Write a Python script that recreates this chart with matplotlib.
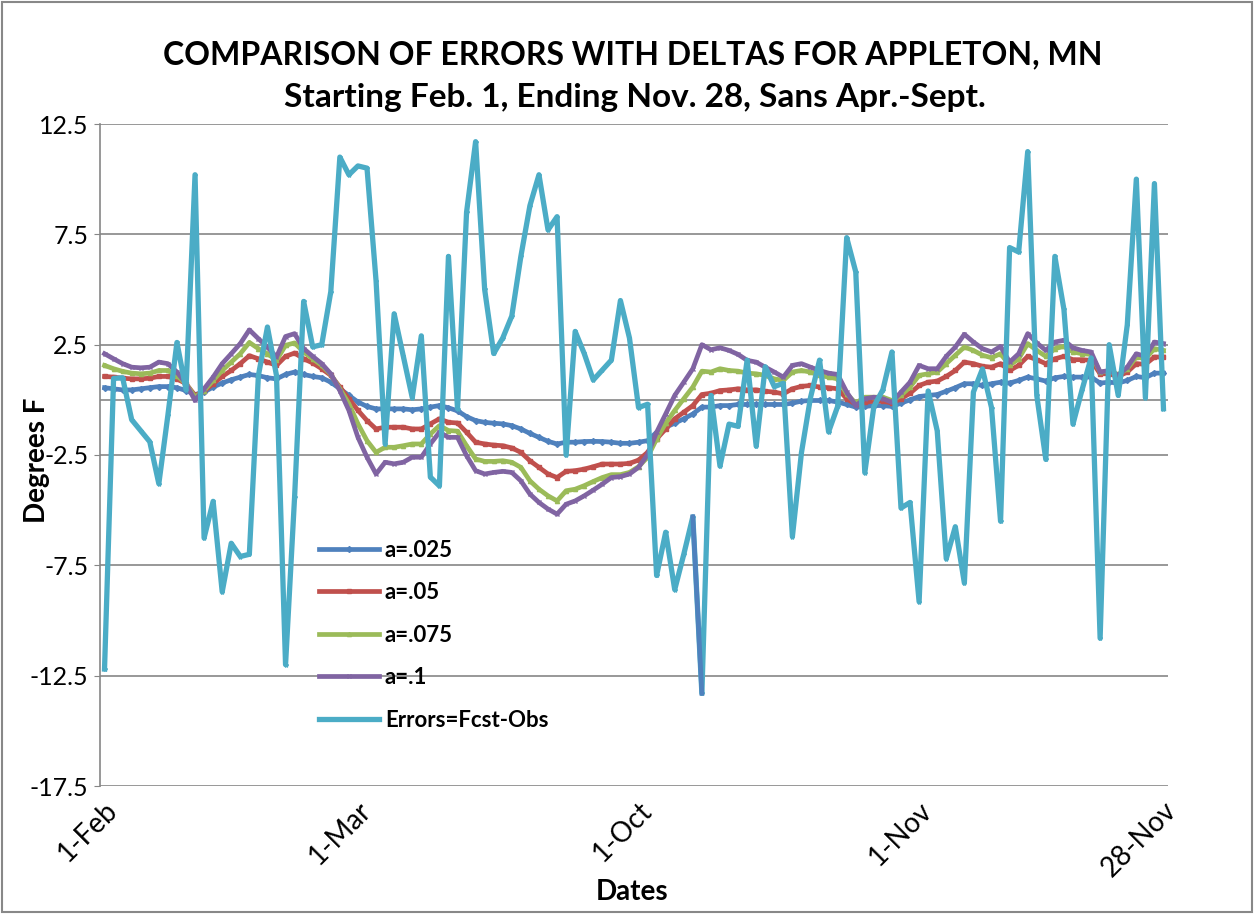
import numpy as np
import matplotlib
matplotlib.use('Agg')
import matplotlib.pyplot as plt
from matplotlib.patches import Rectangle

plt.rcParams['font.family'] = ['Lato', 'DejaVu Sans']

# category labels (Feb 1-28, Mar 1-31, Oct 1-31, Nov 1-28) -> 118 points
tick_pos = [0, 28, 59, 90, 117]
tick_labels = ['1-Feb', '1-Mar', '1-Oct', '1-Nov', '28-Nov']
y_ticks = [12.5, 7.5, 2.5, -2.5, -7.5, -12.5, -17.5]

errors = [-12.2, 0.97, 1.0, -0.9, -1.4, -1.9, -3.8, -0.7, 2.6, 0.46,
          10.2, -6.26, -4.6, -8.7, -6.5, -7.1, -7.0, 1.1, 3.3, 1.1,
          -12.0, -4.4, 4.46, 2.4, 2.5, 4.9, 11.0, 10.2, 10.6, 10.5,
          5.4, -2.0, 3.9, 2.0, 0.1, 2.9, -3.5, -3.9, 6.5, -0.4,
          8.5, 11.7, 5.0, 2.1, 2.8, 3.8, 6.5, 8.8, 10.2, 7.7,
          8.3, -2.5, 3.1, 2.1, 0.9, 1.35, 1.8, 4.5, 2.8, -0.35,
          -0.2, -7.96, -6.0, -8.6, -7.0, -5.3, -13.3, 0.2, -3.0, -1.1,
          -1.2, 1.8, -2.1, 1.5, 0.6, 0.75, -6.2, -2.4, 0.1, 1.8,
          -1.45, -0.3, 7.35, 5.8, -3.3, -0.3, 0.46, 2.17, -4.9, -4.65,
          -9.15, 0.4, -1.4, -7.2, -5.75, -8.3, 0.35, 1.4, -0.35, -5.5,
          6.9, 6.7, 11.25, 0.2, -2.7, 6.5, 4.1, -1.1, 0.45, 1.9,
          -10.8, 2.5, 0.2, 3.4, 10.0, 0.1, 9.8, -0.4]

a025 = [0.55, 0.5, 0.45, 0.45, 0.5, 0.55, 0.6, 0.6, 0.55, 0.42,
        0.24, 0.35, 0.58, 0.76, 0.91, 1.03, 1.15, 1.1, 1.0, 0.95,
        1.15, 1.26, 1.15, 1.06, 1.0, 0.8, 0.5, 0.2, -0.1, -0.3,
        -0.41, -0.41, -0.41, -0.41, -0.45, -0.41, -0.33, -0.26, -0.36, -0.5,
        -0.76, -0.94, -1.02, -1.06, -1.09, -1.17, -1.32, -1.52, -1.7, -1.88,
        -2.0, -1.92, -1.92, -1.89, -1.88, -1.89, -1.92, -1.97, -1.97, -1.92,
        -1.85, -1.47, -1.24, -1.06, -0.86, -0.64, -0.33, -0.33, -0.26, -0.26,
        -0.21, -0.21, -0.21, -0.21, -0.21, -0.21, -0.15, -0.06, -0.03, -0.03,
        -0.03, -0.1, -0.21, -0.33, -0.3, -0.26, -0.26, -0.3, -0.15, 0.0,
        0.15, 0.2, 0.24, 0.39, 0.55, 0.73, 0.73, 0.65, 0.73, 0.8,
        0.76, 0.88, 1.03, 0.95, 0.85, 1.0, 1.06, 1.03, 1.03, 1.03,
        0.76, 0.8, 0.76, 0.88, 1.06, 1.0, 1.21, 1.21]

a05 = [1.06, 1.03, 0.98, 0.95, 0.95, 0.98, 1.06, 1.06, 0.95, 0.73,
       0.2, 0.39, 0.73, 1.06, 1.33, 1.64, 2.0, 1.86, 1.71, 1.56,
       1.97, 2.12, 1.86, 1.67, 1.41, 1.11, 0.58, 0.05, -0.48, -0.94,
       -1.32, -1.24, -1.24, -1.24, -1.32, -1.32, -1.09, -0.86, -1.02, -1.05,
       -1.47, -1.92, -2.0, -2.05, -2.08, -2.18, -2.38, -2.76, -3.06, -3.36,
       -3.52, -3.24, -3.21, -3.14, -3.03, -2.91, -2.91, -2.91, -2.88, -2.73,
       -2.38, -1.77, -1.32, -0.86, -0.56, -0.26, 0.24, 0.3, 0.42, 0.45,
       0.5, 0.45, 0.45, 0.39, 0.35, 0.27, 0.5, 0.61, 0.65, 0.58,
       0.55, 0.5, 0.05, -0.21, -0.11, -0.06, -0.06, -0.15, 0.05, 0.3,
       0.65, 0.8, 0.85, 1.06, 1.33, 1.71, 1.64, 1.52, 1.48, 1.64,
       1.33, 1.56, 1.97, 1.82, 1.64, 1.86, 1.97, 1.82, 1.82, 1.79,
       1.18, 1.18, 1.06, 1.26, 1.64, 1.61, 1.94, 1.94]

a075 = [1.56, 1.41, 1.29, 1.21, 1.18, 1.21, 1.33, 1.33, 1.1, 0.73,
        0.12, 0.42, 0.88, 1.33, 1.71, 2.09, 2.6, 2.32, 2.09, 1.79,
        2.47, 2.58, 2.17, 1.86, 1.56, 1.15, 0.5, -0.18, -1.09, -1.85,
        -2.38, -2.15, -2.15, -2.08, -2.0, -2.0, -1.55, -1.17, -1.39, -1.42,
        -2.08, -2.68, -2.79, -2.79, -2.76, -2.83, -3.06, -3.67, -4.05, -4.35,
        -4.58, -4.12, -4.05, -3.89, -3.7, -3.52, -3.39, -3.39, -3.29, -3.03,
        -2.6, -1.77, -1.06, -0.48, 0.05, 0.58, 1.3, 1.26, 1.41, 1.33,
        1.3, 1.21, 1.18, 1.11, 0.95, 0.88, 1.26, 1.33, 1.26, 1.11,
        1.03, 0.95, 0.27, -0.15, 0.12, 0.12, 0.12, -0.03, 0.2, 0.58,
        1.11, 1.18, 1.26, 1.64, 2.02, 2.39, 2.24, 2.02, 1.91, 2.09,
        1.56, 1.86, 2.55, 2.24, 1.97, 2.32, 2.42, 2.17, 2.09, 2.06,
        1.26, 1.3, 1.15, 1.41, 1.94, 1.86, 2.32, 2.24]

a1 = [2.09, 1.86, 1.64, 1.48, 1.45, 1.48, 1.71, 1.64, 1.26, 0.73,
      -0.03, 0.5, 1.03, 1.64, 2.09, 2.55, 3.17, 2.77, 2.39, 1.94,
      2.87, 3.0, 2.32, 1.97, 1.64, 1.18, 0.42, -0.48, -1.7, -2.6,
      -3.36, -2.83, -2.9, -2.83, -2.6, -2.6, -2.0, -1.47, -1.7, -1.7,
      -2.53, -3.21, -3.36, -3.29, -3.24, -3.29, -3.67, -4.27, -4.65, -4.95,
      -5.18, -4.73, -4.58, -4.35, -4.09, -3.82, -3.52, -3.48, -3.36, -3.06,
      -2.48, -1.47, -0.64, 0.2, 0.8, 1.41, 2.5, 2.27, 2.36, 2.24,
      2.06, 1.79, 1.71, 1.48, 1.26, 1.03, 1.56, 1.64, 1.48, 1.33,
      1.21, 1.15, 0.35, -0.26, 0.05, 0.12, 0.05, -0.11, 0.35, 0.8,
      1.56, 1.41, 1.41, 1.97, 2.39, 2.97, 2.62, 2.32, 2.17, 2.42,
      1.71, 2.09, 3.0, 2.58, 2.24, 2.62, 2.7, 2.36, 2.24, 2.17,
      1.26, 1.33, 1.11, 1.48, 2.09, 1.97, 2.62, 2.55]

series_names = ['a=.025', 'a=.05', 'a=.075', 'a=.1', 'Errors=Fcst-Obs']
series_colors = ['#4F81BD', '#C0504D', '#9BBB59', '#8064A2', '#4BACC6']
series_markers = ['D', 's', '^', 'x', '*']
series_data = [a025, a05, a075, a1, errors]

x = np.arange(len(errors))

fig = plt.figure(figsize=(12.58, 9.14), dpi=100)
ax = fig.add_axes([100/1258, 1-786/914, 1068/1258, 662/914])

for k in range(5):
    ax.plot(x, series_data[k], color=series_colors[k], lw=3.4 if k < 4 else 3.8,
            marker=series_markers[k], ms=3, mew=1, label=series_names[k],
            zorder=3+k, solid_joinstyle='round')
# one segment of the chart shows in the a=.025 colour
ax.plot(x[65:67], errors[65:67], color='#4F81BD', lw=3.4, zorder=9)

ax.set_xlim(-0.5, len(errors)-0.5)
ax.set_ylim(-17.5, 12.5)
ax.set_yticks(y_ticks)
ax.set_yticklabels(['%.1f' % v for v in y_ticks], fontsize=18)
ax.set_xticks(tick_pos)
ax.set_xticklabels(tick_labels, fontsize=20, rotation=45, ha='right',
                   va='top', rotation_mode='anchor')
ax.tick_params(axis='x', length=0, pad=8)
ax.tick_params(axis='y', length=4.5, color='#868686', pad=4)
for v in y_ticks:
    ax.axhline(v, color='#868686', lw=1.2, zorder=1)
ax.axhline(0, color='#868686', lw=1.2, zorder=1)
for s in ['top', 'right', 'bottom']:
    ax.spines[s].set_visible(False)
ax.spines['left'].set_color('#868686')
ax.spines['left'].set_linewidth(1.2)

leg = ax.legend(loc='upper left', bbox_to_anchor=(0.195, 0.389), frameon=False,
                borderpad=0, handlelength=2.7, labelspacing=0.97, handletextpad=0.25,
                prop={'weight': 'bold', 'size': 16})

fig.text(0.503, 1-55/914, 'COMPARISON OF ERRORS WITH DELTAS FOR APPLETON, MN',
         ha='center', va='center', fontsize=23, fontweight='bold')
fig.text(0.505, 1-97/914, 'Starting Feb. 1, Ending Nov. 28, Sans Apr.-Sept.',
         ha='center', va='center', fontsize=24, fontweight='bold')
fig.text(37/1258, 1-460/914, 'Degrees F', rotation=90, ha='center', va='center',
         fontsize=20, fontweight='bold')
fig.text(632/1258, 1-892/914, 'Dates', ha='center', va='center',
         fontsize=20, fontweight='bold')

fig.patches.append(Rectangle((2/1258, 2/914), 1250/1258, 910/914, transform=fig.transFigure,
                             fill=False, ec='#888888', lw=1.5))

fig.savefig('out.png', dpi=100)
